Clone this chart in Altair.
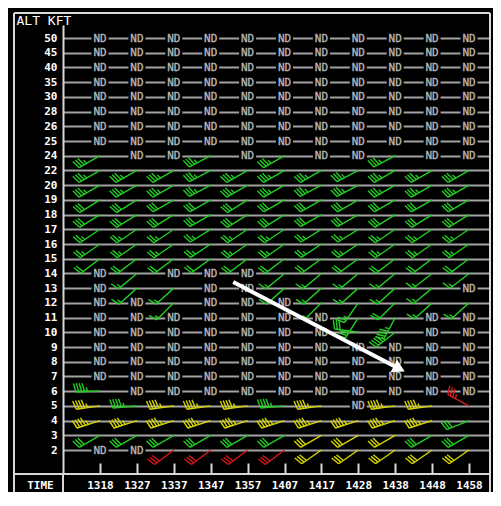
import altair as alt
import pandas as pd

# ---------------- data ----------------
TIMES = ["1318", "1327", "1337", "1347", "1357", "1407", "1417", "1428", "1438", "1448", "1458"]
ALTS = ["50", "45", "40", "35", "30", "28", "26", "25", "24", "22", "20", "19", "18", "17",
        "16", "15", "14", "13", "12", "11", "10", "9", "8", "7", "6", "5", "4", "3", "2"]

N = None
# wind direction (deg, from) per altitude row, per time column; None = no data (ND)
DIRECTION = [
    [N, N, N, N, N, N, N, N, N, N, N],            # 50
    [N, N, N, N, N, N, N, N, N, N, N],            # 45
    [N, N, N, N, N, N, N, N, N, N, N],            # 40
    [N, N, N, N, N, N, N, N, N, N, N],            # 35
    [N, N, N, N, N, N, N, N, N, N, N],            # 30
    [N, N, N, N, N, N, N, N, N, N, N],            # 28
    [N, N, N, N, N, N, N, N, N, N, N],            # 26
    [N, N, N, N, N, N, N, N, N, N, N],            # 25
    [240, N, N, 242, N, 240, N, N, 242, N, N],    # 24
    [240, 240, 240, 242, 240, 240, 240, 242, 240, 240, 240],  # 22
    [240, 240, 240, 242, 240, 240, 242, 242, 240, 240, 240],  # 20
    [238, 238, 240, 240, 238, 240, 240, 240, 240, 240, 240],  # 19
    [238, 238, 238, 240, 238, 238, 240, 240, 238, 238, 238],  # 18
    [236, 236, 236, 238, 236, 236, 238, 238, 236, 236, 236],  # 17
    [235, 235, 235, 236, 235, 235, 236, 236, 235, 235, 235],  # 16
    [233, 233, 233, 234, 233, 233, 234, 234, 233, 233, 233],  # 15
    [N, 230, N, N, N, 230, 230, 230, 230, 232, 232],          # 14
    [N, 228, 228, N, N, 228, 228, 228, 228, 230, N],          # 13
    [N, N, 225, N, N, N, 225, 215, 225, 228, 228],            # 12
    [N, N, N, N, N, N, N, 212, 208, N, N],                    # 11
    [N, N, N, N, N, N, N, 278, 232, N, N],                    # 10
    [N, N, N, N, N, N, N, N, N, N, N],            # 9
    [N, N, N, N, N, N, N, N, N, N, N],            # 8
    [N, N, N, N, N, N, N, N, N, N, N],            # 7
    [268, N, N, N, N, N, N, N, N, N, N],          # 6
    [262, 265, 262, 262, 262, 265, 262, N, 262, 262, 298],    # 5
    [252, 252, 252, 252, 252, 252, 252, 252, 252, 252, 248],  # 4
    [240, 240, 240, 240, 240, 240, 240, 240, 240, 240, 240],  # 3
    [N, N, 233, 233, 233, 233, 235, 235, 235, 235, 235],      # 2
]
# wind speed (kt)
SPEED = [
    [N] * 11, [N] * 11, [N] * 11, [N] * 11, [N] * 11, [N] * 11, [N] * 11, [N] * 11,
    [35, N, N, 35, N, 35, N, N, 35, N, N],        # 24
    [35, 35, 35, 35, 35, 35, 35, 35, 35, 35, 35],  # 22
    [35, 35, 35, 35, 35, 35, 35, 35, 35, 35, 35],  # 20
    [30, 30, 30, 30, 30, 30, 30, 30, 30, 30, 30],  # 19
    [30, 30, 30, 30, 30, 30, 30, 30, 30, 30, 30],  # 18
    [25, 25, 25, 25, 25, 25, 25, 25, 25, 25, 25],  # 17
    [25, 25, 25, 25, 25, 25, 25, 25, 25, 25, 25],  # 16
    [20, 20, 20, 20, 20, 20, 20, 20, 20, 20, 20],  # 15
    [N, 15, N, N, N, 15, 15, 15, 15, 15, 15],      # 14
    [N, 15, 15, N, N, 15, 15, 15, 15, 15, N],      # 13
    [N, N, 15, N, N, N, 15, 25, 20, 15, 15],       # 12
    [N, N, N, N, N, N, N, 30, 45, N, N],           # 11
    [N, N, N, N, N, N, N, 30, 45, N, N],           # 10
    [N] * 11, [N] * 11, [N] * 11,
    [45, N, N, N, N, N, N, N, N, N, N],            # 6
    [45, 45, 45, 45, 45, 45, 45, N, 45, 45, 35],   # 5
    [45, 45, 45, 45, 45, 45, 45, 45, 45, 45, 30],  # 4
    [30, 30, 30, 30, 30, 30, 30, 30, 30, 30, 30],  # 3
    [N, N, 30, 30, 30, 30, 30, 30, 30, 30, 30],    # 2
]
# data quality colour code: g = green, y = yellow, r = red, . = ND
QUALITY = [
    "...........", "...........", "...........", "...........", "...........",
    "...........", "...........", "...........",
    "g..g.g..g..",  # 24
    "ggggggggggg", "ggggggggggg", "ggggggggggg", "ggggggggggg", "ggggggggggg",
    "ggggggggggg", "ggggggggggg",
    ".g...gggggg",  # 14
    ".gg..ggggg.",  # 13
    "..g...ggggg",  # 12
    ".......gg..",  # 11
    ".......gg..",  # 10
    "...........", "...........", "...........",
    "g..........",  # 6
    "ygyyygy.yyr",  # 5
    "yyyyyyyyyyg",  # 4
    "ggggggyyygg",  # 3
    "..rrrryyyyy",  # 2
]

# annotation arrow (column / row units)
ARROW_FROM = (3.61, 16.58)
ARROW_TO = (8.11, 22.48)

# ---------------- build tables ----------------
barb_rows, nd_rows = [], []
for i, a in enumerate(ALTS):
    for j, t in enumerate(TIMES):
        q = QUALITY[i][j]
        if q == ".":
            nd_rows.append({"col": j, "row": i, "txt": "ND"})
        else:
            barb_rows.append({"col": j, "row": i, "dir": DIRECTION[i][j],
                              "spd": SPEED[i][j], "q": q, "glyph": f"s{SPEED[i][j]}"})
barbs_df = pd.DataFrame(barb_rows)
nd_df = pd.DataFrame(nd_rows)


def barb_path(speed):
    """Wind barb outline in the unit square: station at origin, staff pointing up."""
    n10 = speed // 10
    n5 = (speed % 10) // 5
    parts = ["M0,0L0,-1"]
    pos = -1.0
    step, fl, ft = 0.12, 0.36, 0.10
    for _ in range(n10):
        parts.append(f"M0,{pos:.3f}L{fl:.3f},{pos - ft:.3f}")
        pos += step
    if n5:
        if n10 == 0:
            pos += step
        parts.append(f"M0,{pos:.3f}L{fl / 2:.3f},{pos - ft / 2:.3f}")
    return "".join(parts)


glyph_keys = sorted(barbs_df["glyph"].unique())
glyph_paths = [barb_path(int(k[1:])) for k in glyph_keys]

arrow_df = pd.DataFrame([{"x": ARROW_FROM[0], "y": ARROW_FROM[1], "x2": ARROW_TO[0], "y2": ARROW_TO[1]}])
one = pd.DataFrame({"k": [0]})

# ---------------- scales ----------------
FONT = "DejaVu Sans Mono"
GRID = "#a2a2a2"
FRAME = "#d8d8d8"
NDC = "#b8b8b8"
xscale = alt.Scale(domain=[-1.0027, 10.569], nice=False, zero=False)
yscale = alt.Scale(domain=[-0.8835, 29.631], nice=False, zero=False, reverse=True)

time_expr = "[" + ",".join(f"'{t}'" for t in TIMES) + "][datum.value]"
alt_expr = "[" + ",".join(f"'{a}'" for a in ALTS) + "][datum.value]"

base = alt.Chart(nd_df).mark_point(
    shape="M-1,-0.35L1,-0.35L1,0.35L-1,0.35Z", filled=True, color="black", opacity=1, size=289
).encode(
    x=alt.X("col:Q", scale=xscale, axis=alt.Axis(
        values=list(range(len(TIMES))), tickCount=50, labelExpr=time_expr, orient="bottom", offset=-11,
        domain=False, grid=False, ticks=True, tickSize=10, tickColor=FRAME, tickWidth=2,
        labelColor="white", labelFont=FONT, labelFontSize=11, labelFontWeight="bold",
        labelPadding=12, labelBaseline="middle", labelAngle=0, labelOverlap=False,
        title="TIME", titleX=-23, titleY=22, titleAlign="center", titleBaseline="middle",
        titleColor="white", titleFont=FONT, titleFontSize=11, titleFontWeight="bold")),
    y=alt.Y("row:Q", scale=yscale, axis=alt.Axis(
        values=list(range(len(ALTS))), tickCount=50, labelExpr=alt_expr, orient="left",
        domain=True, domainColor=FRAME, domainWidth=2, ticks=False, labelOverlap=False,
        grid=True, gridColor=GRID, gridWidth=2,
        labelColor="white", labelFont=FONT, labelFontSize=11, labelFontWeight="bold",
        labelPadding=6, labelBaseline="middle",
        title="ALT KFT", titleAngle=0, titleX=-47, titleY=-5, titleAlign="left",
        titleBaseline="middle", titleColor="white", titleFont=FONT, titleFontSize=13,
        titleFontWeight="normal")),
)

nd_text = alt.Chart(nd_df).mark_text(
    font=FONT, fontSize=11, color=NDC, stroke=NDC, strokeWidth=0.3,
    align="center", baseline="middle", dy=0.5
).encode(x=alt.X("col:Q", scale=xscale), y=alt.Y("row:Q", scale=yscale), text="txt:N")

barbs = alt.Chart(barbs_df).mark_point(filled=False, size=2304, strokeWidth=1.4, opacity=1).encode(
    x=alt.X("col:Q", scale=xscale),
    y=alt.Y("row:Q", scale=yscale),
    shape=alt.Shape("glyph:N", scale=alt.Scale(domain=glyph_keys, range=glyph_paths), legend=None),
    angle=alt.Angle("dir:Q", scale=alt.Scale(domain=[0, 360], range=[0, 360])),
    color=alt.Color("q:N", scale=alt.Scale(domain=["g", "y", "r"],
                                           range=["#22cc22", "#d4d400", "#d81818"]), legend=None),
)

arrow_line = alt.Chart(arrow_df).mark_rule(color="white", strokeWidth=4).encode(
    x=alt.X("x:Q", scale=xscale), y=alt.Y("y:Q", scale=yscale), x2="x2:Q", y2="y2:Q")
arrow_head = alt.Chart(arrow_df).mark_point(
    shape="triangle-right", filled=True, color="white", opacity=1, size=200, angle=27.6
).encode(x=alt.X("x2:Q", scale=xscale), y=alt.Y("y2:Q", scale=yscale))


def hline(y, x1, x2):
    return alt.Chart(one).mark_rule(color=FRAME, strokeWidth=2).encode(
        x=alt.value(x1), x2=alt.value(x2), y=alt.value(y))


def vline(x, y1, y2):
    return alt.Chart(one).mark_rule(color=FRAME, strokeWidth=2).encode(
        x=alt.value(x), y=alt.value(y1), y2=alt.value(y2))


frame = [
    hline(-12, -49, 427),   # top border
    vline(-49, -12, 470),   # left border
    vline(427, -12, 470),   # right border
    hline(449, -49, 427),   # separator above time row
    vline(0, 449, 470),     # axis line continued through time row
]

chart = alt.layer(base, nd_text, barbs, arrow_line, arrow_head, *frame).properties(
    width=427, height=449,
    autosize=alt.AutoSizeParams(type="none"),
    padding={"left": 55, "top": 17, "right": 3, "bottom": 18},
    background="black",
).configure_view(strokeWidth=0)

chart.save("out.html", embed_options={"renderer": "svg", "actions": False})
